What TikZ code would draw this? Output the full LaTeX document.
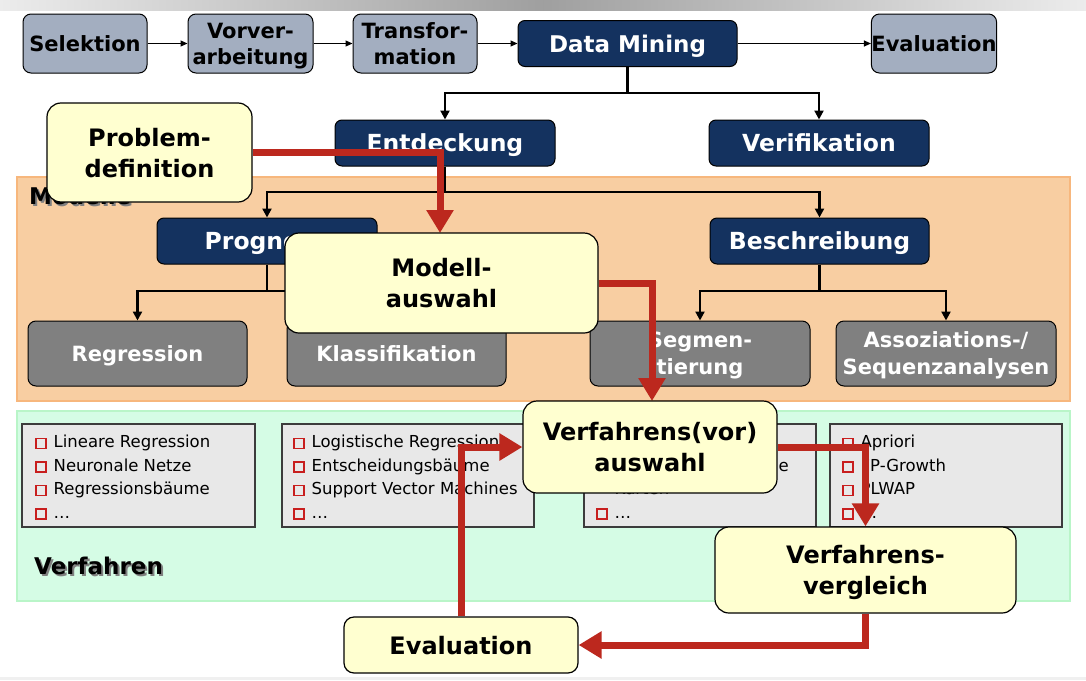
\documentclass[tikz,border=0pt]{standalone}
\usepackage{fontspec}
\setmainfont{DejaVu Sans}
\usetikzlibrary{arrows.meta}
\definecolor{topgray}{RGB}{163,174,192}
\definecolor{navyc}{RGB}{20,50,95}
\definecolor{midgray}{RGB}{128,128,128}
\definecolor{yel}{RGB}{255,255,208}
\definecolor{orfill}{RGB}{248,206,162}
\definecolor{orline}{RGB}{247,183,125}
\definecolor{grfill}{RGB}{213,252,229}
\definecolor{grline}{RGB}{185,245,200}
\definecolor{listgray}{RGB}{232,232,232}
\definecolor{listline}{RGB}{60,60,60}
\definecolor{redc}{RGB}{188,40,30}
\definecolor{bulletred}{RGB}{200,30,30}
\newcommand\bsq{{\color{bulletred}\setlength\fboxrule{1.5pt}\setlength\fboxsep{0pt}\fbox{\rule{0pt}{8.5pt}\rule{8.5pt}{0pt}}}\hspace{7pt}}
\begin{document}
\begin{tikzpicture}[x=1pt,y=-1pt,
  every node/.style={inner sep=0pt},
  topbox/.style={draw=black, line width=1pt, rounded corners=8pt, fill=topgray, minimum width=124, minimum height=59, font=\bfseries\fontsize{21}{26}\selectfont, align=center, text=black, text depth=0pt},
  navybox/.style={draw=black, line width=1pt, rounded corners=7pt, fill=navyc, text=white, font=\bfseries\fontsize{23.5}{28}\selectfont, minimum width=220, minimum height=46, text depth=0pt},
  graybox/.style={draw=black, line width=1pt, rounded corners=8pt, fill=midgray, text=white, font=\bfseries\fontsize{21}{27}\selectfont, align=center, minimum width=219, minimum height=65, text depth=0pt},
  yelbox/.style={draw=black, line width=1.2pt, rounded corners=14pt, fill=yel, font=\bfseries\fontsize{24}{31}\selectfont, align=center, text depth=0pt},
  listbox/.style={draw=listline, line width=1.3pt, fill=listgray, minimum width=233, minimum height=103},
  listtext/.style={anchor=north west, align=left, font=\fontsize{16.5}{23.5}\selectfont},
  thinarrow/.style={-{Triangle[width=6pt,length=7pt]}, line width=1pt},
  treeline/.style={line width=2.5pt},
  treearrow/.style={line width=2.5pt, -{Triangle[width=9pt,length=9pt]}},
  redarrow/.style={line width=7pt, draw=redc, line join=miter, -{Triangle[width=26pt,length=23pt]}},
  panellabel/.style={anchor=west, font=\bfseries\fontsize{23}{27}\selectfont}
]
\useasboundingbox (0,0) rectangle (1086,680);
\fill[white] (0,0) rectangle (1086,680);
% top gradient bar
\shade[left color=gray!15, right color=gray!15, middle color=gray!75] (0,0) rectangle (1086,10);
\fill[gray!12] (0,677) rectangle (1086,680);

% panels
\draw[fill=orfill, draw=orline, line width=2pt] (17,177) rectangle (1070,401);
\draw[fill=grfill, draw=grline, line width=2pt] (17,411) rectangle (1070,601);
\node[panellabel, text=gray] at (31,198) {Modelle};
\node[panellabel] (lblM) at (29,196) {Modelle};
\node[panellabel, text=gray] at (36,568) {Verfahren};
\node[panellabel] (lblV) at (34,566) {Verfahren};

% top process row
\node[topbox] (sel) at (85,43.5) {Selektion};
\node[topbox, minimum width=125] (vor) at (250.5,43.5) {Vorver-\\arbeitung};
\node[topbox] (tra) at (415,43.5) {Transfor-\\mation};
\node[navybox, minimum width=219, font=\bfseries\fontsize{23}{28}\selectfont] (dm) at (627.5,43.5) {Data Mining};
\node[topbox] (evt) at (934,43.5) {Evaluation};
\draw[thinarrow] (sel) -- (vor);
\draw[thinarrow] (vor) -- (tra);
\draw[thinarrow] (tra) -- (dm);
\draw[thinarrow] (dm) -- (evt);

% second level
\node[navybox] (ent) at (445,143) {Entdeckung};
\node[navybox] (ver) at (819,143) {Verifikation};
\coordinate (j1) at (627.5,93);
\draw[treeline] (dm.south) -- (j1);
\draw[treearrow] (j1) -| (ent.north);
\draw[treearrow] (j1) -| (ver.north);

% models
\node[navybox] (pro) at (267,241) {Prognose};
\node[navybox, minimum width=219] (bes) at (819.5,241) {Beschreibung};
\coordinate (j2) at (445,192);
\draw[treeline] (ent.south) -- (j2);
\draw[treearrow] (j2) -| (pro.north);
\draw[treearrow] (j2) -| (bes.north);

\node[graybox] (reg) at (137.5,353.5) {Regression};
\node[graybox] (kla) at (396.5,353.5) {Klassifikation};
\node[graybox, minimum width=220] (seg) at (700,353.5) {Segmen-\\tierung};
\node[graybox, minimum width=220] (ass) at (946,353.5) {Assoziations-/\\Sequenzanalysen};
\coordinate (j3) at (267,291);
\draw[treeline] (pro.south) -- (j3);
\draw[treearrow] (j3) -| (reg.north);
\draw[treearrow] (j3) -| (kla.north);
\coordinate (j4) at (819.5,291);
\draw[treeline] (bes.south) -- (j4);
\draw[treearrow] (j4) -| (seg.north);
\draw[treearrow] (j4) -| (ass.north);

% list boxes
\node[listbox] (l1) at (138.5,475.5) {};
\node[listbox, minimum width=252] (l2) at (408,475.5) {};
\node[listbox, minimum width=232] (l3) at (700,475.5) {};
\node[listbox, minimum width=232] (l4) at (946,475.5) {};
\node[listtext] (t1) at (35,435) {\bsq Lineare Regression\\\bsq Neuronale Netze\\\bsq Regressionsbäume\\\bsq \dots};
\node[listtext] (t2) at (293,435) {\bsq Logistische Regression\\\bsq Entscheidungsbäume\\\bsq Support Vector Machines\\\bsq \dots};
\node[listtext] (t3) at (596,435) {\bsq Clusteranalyse\\\bsq Selbstorganisierende\\\phantom{\bsq}Karten\\\bsq \dots};
\node[listtext] (t4) at (842,435) {\bsq Apriori\\\bsq FP-Growth\\\bsq PLWAP\\\bsq \dots};

% process boxes and red flow
\node[yelbox, minimum width=205, minimum height=99] (pd) at (149.5,152.5) {Problem-\\definition};
\draw[redarrow] (pd.east) -| (440,233);
\node[yelbox, minimum width=313, minimum height=100] (ma) at (441.5,283) {Modell-\\auswahl};
\draw[redarrow] (ma.east) -| (652,401);
\node[yelbox, minimum width=254, minimum height=92] (va) at (650,447) {Verfahrens(vor)\\auswahl};
\node[yelbox, minimum width=301, minimum height=86] (vv) at (865.5,570) {Verfahrens-\\vergleich};
\node[yelbox, minimum width=234, minimum height=56, rounded corners=10pt] (ev) at (461,645) {Evaluation};
\draw[redarrow] (va.east) -| (vv.north);
\draw[redarrow] (vv.south) |- (ev.east);
\draw[redarrow] (ev.north) |- (va.west);
\end{tikzpicture}
\end{document}
